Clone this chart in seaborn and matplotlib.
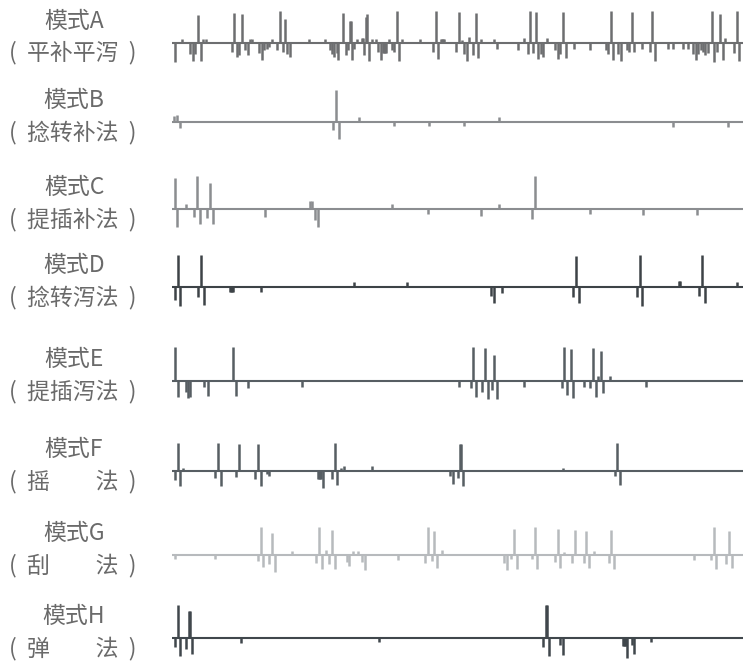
import matplotlib
matplotlib.use("Agg")
import matplotlib.pyplot as plt
import seaborn as sns
import numpy as np

# ---------------- data ----------------
mode_names = ["模式A", "模式B", "模式C", "模式D", "模式E", "模式F", "模式G", "模式H"]
method_names = ["(  平补平泻  )", "(  捻转补法  )", "(  提插补法  )", "(  捻转泻法  )",
                "(  提插泻法  )", "(  摇　　法  )", "(  刮　　法  )", "(  弹　　法  )"]

A_t = [3, 10, 18, 21, 23, 26, 29, 31, 34, 60, 62, 65, 67, 70, 73, 76, 78, 80, 87, 90, 92, 95, 97, 100,
       105, 108, 111, 113, 115, 118, 137, 153, 158, 160, 162, 165, 166, 171, 174, 176, 178, 179, 180, 182,
       185, 190, 191, 192, 194, 195, 197, 200, 204, 206, 209, 211, 212, 213, 214, 217, 220, 222, 225, 227,
       230, 248, 261, 264, 266, 269, 270, 271, 272, 284, 287, 290, 292, 295, 297, 301, 304, 306, 309, 322,
       325, 346, 352, 356, 358, 361, 364, 366, 369, 371, 375, 383, 386, 388, 391, 394, 402, 418, 434, 436,
       439, 441, 446, 449, 455, 457, 460, 462, 470, 478, 480, 483, 496, 501, 511, 516, 521, 524, 526, 529,
       531, 533, 536, 540, 542, 545, 548, 551, 553, 562, 565, 567]
A_v = [-19, 4, -11, -18, -11, 28, -18, 4, 4, -9, 30, -14, -12, 29, -7, -12, 4, 4, -10, -17, -7, -6, -4, 4,
       -7, 32, -9, 24, -11, -14, 4, 4, -7, -11, -14, -10, -17, 30, -12, -7, 22, 22, -17, -6,
       4, 5, 5, -12, 26, 29, -18, 4, 4, -9, -17, -10, -10, -10, -10, 4, -7, -9, 32, -18,
       4, 4, -9, 32, -16, 4, 4, 4, 4, -9, 31, 3, -11, -18, 6, -12, 30, -15, 4, 4,
       -6, -7, 5, -11, 32, -10, 31, -16, -11, -14, 5, -7, -16, -11, 31, -15, -6, -7, -7, -11,
       32, -17, -11, -18, -7, -9, 31, -9, -6, -9, 32, -18, -6, -6, -6, -6, -11, -17, -11, -7,
       -9, -12, -10, 32, -19, -9, 29, -17, 5, -10, 32, -18]

B_t = [2, 5, 8, 161, 164, 167, 187, 222, 257, 292, 327, 501, 556]
B_v = [6, 7, -6, -8, 32, -17, 5, -4, -4, -4, 5, -5, -5]

C_t = [3, 5, 14, 22, 25, 28, 35, 38, 41, 93, 138, 140, 143, 146, 220, 256, 309, 327, 360, 363, 418, 471, 525]
C_v = [31, -18, 5, -8, 33, -15, -9, 26, -15, -8, 8, 8, -11, -18, 5, -5, -7, 5, -10, 33, -5, -6, -6]

D_t = [3, 6, 8, 26, 29, 32, 58, 59, 60, 61, 89, 182, 235, 319, 322, 330, 401, 404, 407, 465, 468, 470,
       507, 508, 527, 530, 533, 565]
D_v = [-13, 32, -19, -10, 32, -18, -5, -5, -5, -5, -5, 5, 5, -9, -16, -6, -10, 31, -16, -10, 32, -19,
       6, 6, -9, 32, -16, 5]

E_t = [3, 6, 14, 16, 18, 32, 36, 61, 64, 76, 130, 287, 299, 301, 304, 310, 313, 316, 320, 322, 325, 352,
       390, 392, 395, 399, 401, 412, 418, 421, 424, 426, 429, 431, 438, 474]
E_v = [34, -16, -11, -17, -16, -6, -15, 34, -15, -7, -6, -6, -7, 34, -16, -11, 33, -18, -9, 26, -18, -6,
       -7, 34, -14, 32, -17, -6, -7, 33, -16, 5, 30, -12, 5, -6]

F_t = [3, 6, 8, 11, 43, 46, 49, 64, 67, 83, 86, 89, 95, 97, 146, 147, 148, 149, 151, 160, 163, 165, 169,
       172, 200, 278, 281, 286, 288, 289, 291, 391, 443, 445, 448]
F_v = [-9, 28, -15, 3, -7, 28, -15, -6, 27, -8, 27, -15, -3, -5, -8, -8, -8, -8, -17, -8, 28, -14, 3,
       5, 5, -5, -13, -7, 27, 27, -15, 3, -5, 28, -14]

G_t = [3, 43, 86, 89, 91, 97, 100, 103, 120, 144, 147, 150, 154, 157, 160, 163, 175, 177, 181, 186, 190,
       193, 226, 253, 256, 260, 262, 265, 270, 332, 335, 339, 342, 345, 360, 363, 365, 383, 386, 388, 392,
       400, 403, 412, 414, 417, 422, 437, 439, 442, 522, 539, 542, 544, 554, 557, 560]
G_v = [-4, -4, -6, 28, -12, -9, 22, -17, 4, -8, 28, -14, 5, -9, 25, -14, -7, -11, 4, 4, -7,
       -15, -5, -8, 28, -6, 24, -13, 5, -8, -15, -4, 26, -14, -4, 28, -14, -7, 26, -13, 3,
       -8, 25, -8, 24, -13, 4, -8, 25, -14, -5, -5, 28, -14, -9, 24, -13]

H_t = [3, 6, 8, 14, 17, 18, 20, 69, 207, 371, 374, 375, 377, 388, 391, 451, 452, 453, 454, 455, 460, 462, 479]
H_v = [-9, 33, -18, -11, 27, 27, -16, -5, -4, -9, 33, 33, -18, -7, -17, -8, -8, -8, -8, -20, -7, -16, -4]

series_t = [A_t, B_t, C_t, D_t, E_t, F_t, G_t, H_t]
series_v = [A_v, B_v, C_v, D_v, E_v, F_v, G_v, H_v]

# ---------------- style ----------------
row_colors = ["#6d6e70", "#8b8d90", "#8b8d90", "#3d4347", "#575e63", "#575e63", "#b7babd", "#40474c"]
baselines_px = [43, 122, 209, 287, 381, 471, 555, 638]
text_color = "#6a6a6a"

sns.set_theme(style="white")
plt.rcParams["font.family"] = ["Noto Sans CJK SC", "DejaVu Sans"]

W, H = 745, 666
fig = plt.figure(figsize=(W / 100, H / 100), dpi=100)

x_left, x_right = 172, 743
y_top_units, y_bot_units = 36, 22

for i in range(8):
    b = baselines_px[i]
    ax = fig.add_axes([x_left / W, (H - (b + y_bot_units)) / H,
                       (x_right - x_left) / W, (y_top_units + y_bot_units) / H])
    ax.set_xlim(0, 571)
    ax.set_ylim(-y_bot_units, y_top_units)
    c = row_colors[i]
    ax.axhline(0, color=c, lw=1.5, zorder=2)
    ax.vlines(series_t[i], 0, series_v[i], color=c, lw=1.8, zorder=3)
    ax.set_axis_off()
    sns.despine(ax=ax, left=True, bottom=True)

    fig.text(74 / W, 1 - (b - 22) / H, mode_names[i], ha="center", va="center",
             fontsize=16.5, color=text_color, fontweight="light")
    fig.text(73 / W, 1 - (b + 10) / H, method_names[i], ha="center", va="center",
             fontsize=16.5, color=text_color, fontweight="light")

fig.savefig("out.png", dpi=100, facecolor="white")
